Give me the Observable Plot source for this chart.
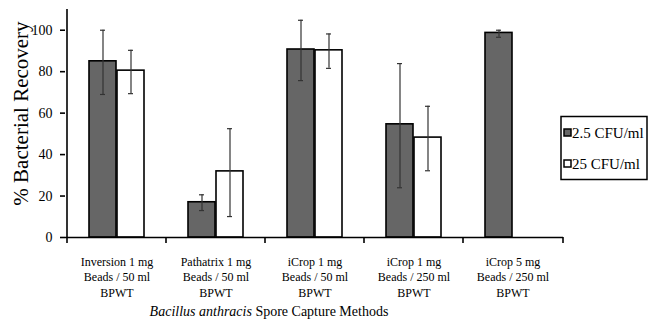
<!DOCTYPE html>
<html><head><meta charset="utf-8">
<script src="https://cdn.jsdelivr.net/npm/d3@7"></script>
<script src="https://cdn.jsdelivr.net/npm/@observablehq/plot@0.6"></script>
<style>
body{margin:0;background:#fff}
#chart svg, #chart svg text{font-family:'Liberation Serif','Times New Roman',serif !important;}
</style>
</head><body><div id="chart"></div>
<script>
const methods = ["Inversion 1 mg\nBeads / 50 ml\nBPWT","Pathatrix 1 mg\nBeads / 50 ml\nBPWT","iCrop 1 mg\nBeads / 50 ml\nBPWT","iCrop 1 mg\nBeads / 250 ml\nBPWT","iCrop 5 mg\nBeads / 250 ml\nBPWT"];
const seriesNames = ["2.5 CFU/ml","25 CFU/ml"];
const lowValues = [85, 17, 90.7, 54.6, 98.7];
const lowErrLo = [69, 13, 75.7, 24, 96.6];
const lowErrHi = [100, 20.6, 104.8, 83.9, 100];
const highValues = [80.5, 31.9, 90.3, 48.2, null];
const highErrLo = [69.4, 10.1, 81.6, 32.2, null];
const highErrHi = [90.3, 52.5, 98.2, 63.3, null];
const yTicks = [0, 20, 40, 60, 80, 100];
const yLabel = "% Bacterial Recovery";

const low = methods.map((m,i)=>({method:m, value:lowValues[i], lo:lowErrLo[i], hi:lowErrHi[i]}));
const high = methods.map((m,i)=>({method:m, value:highValues[i], lo:highErrLo[i], hi:highErrHi[i]})).filter(d=>d.value!=null);

const font = "'Liberation Serif','Times New Roman',serif";
const errColor = "#333";
const plot = Plot.plot({
  width: 650, height: 324,
  marginLeft: 65, marginRight: 87, marginTop: 9, marginBottom: 87,
  style: {fontFamily: font, fontSize: "13px", background: "white", color: "black"},
  x: {domain: methods, padding: 0, axis: null},
  y: {domain: [0, 110], axis: null},
  marks: [
    Plot.barY(low, {x:"method", y:"value", fill:"#666", stroke:"black", strokeWidth:1.6, insetLeft:22, insetRight:50}),
    Plot.barY(high, {x:"method", y:"value", fill:"white", stroke:"black", strokeWidth:1.6, insetLeft:50, insetRight:22}),
    Plot.ruleX(low, {x:"method", y1:"lo", y2:"hi", dx:-14, stroke:errColor, strokeWidth:1.2}),
    Plot.ruleX(high, {x:"method", y1:"lo", y2:"hi", dx:14, stroke:errColor, strokeWidth:1.2}),
    Plot.tickY(low, {x:"method", y:"lo", stroke:errColor, strokeWidth:1.2, insetLeft:33, insetRight:61}),
    Plot.tickY(low, {x:"method", y:"hi", stroke:errColor, strokeWidth:1.2, insetLeft:33, insetRight:61}),
    Plot.tickY(high, {x:"method", y:"lo", stroke:errColor, strokeWidth:1.2, insetLeft:61, insetRight:33}),
    Plot.tickY(high, {x:"method", y:"hi", stroke:errColor, strokeWidth:1.2, insetLeft:61, insetRight:33}),
    Plot.ruleY([0], {stroke:"black", strokeWidth:1.6}),
    Plot.ruleX([methods[0]], {x:d=>d, y1:0, y2:110, dx:-50, stroke:"black", strokeWidth:1.6}),
    Plot.axisY({ticks: yTicks, tickSize: 5, tickPadding: 8, fontSize: 14, label: null, strokeWidth: 1.6}),
    Plot.axisX({tickSize: 0, tickPadding: 17, fontSize: 12, lineHeight: 1.3, label: null}),
    Plot.axisX(methods, {tickSize: 6, text: null, dx: -50, label: null, strokeWidth: 1.6}),
    Plot.axisX([methods[4]], {tickSize: 6, text: null, dx: 50, label: null, strokeWidth: 1.6}),
    Plot.text([yLabel], {frameAnchor:"left", textAnchor:"middle", rotate:-90, dx:-44, dy:-10, fontSize:21})
  ]
});
document.getElementById("chart").appendChild(plot);

const svg = d3.select(plot);
// x-axis title with italic species name
const t = svg.append("text").attr("x", 269).attr("y", 316).attr("text-anchor", "middle")
  .attr("font-family", font).attr("font-size", 14).attr("fill", "black");
t.append("tspan").attr("font-style", "italic").text("Bacillus anthracis");
t.append("tspan").text(" Spore Capture Methods");

// legend
const lg = svg.append("g").attr("font-family", font).attr("font-size", 15).attr("text-anchor", "start");
lg.append("rect").attr("x", 561).attr("y", 116.5).attr("width", 86).attr("height", 63)
  .attr("fill", "white").attr("stroke", "black").attr("stroke-width", 1.5);
const fills = ["#666", "white"];
seriesNames.forEach((s, i) => {
  const cy = 133 + i * 31;
  lg.append("rect").attr("x", 564).attr("y", cy - 4).attr("width", 7).attr("height", 7)
    .attr("fill", fills[i]).attr("stroke", "black").attr("stroke-width", 1.5);
  lg.append("text").attr("x", 572).attr("y", cy + 5).attr("fill", "black").attr("text-anchor", "start").text(s);
});
</script></body></html>
